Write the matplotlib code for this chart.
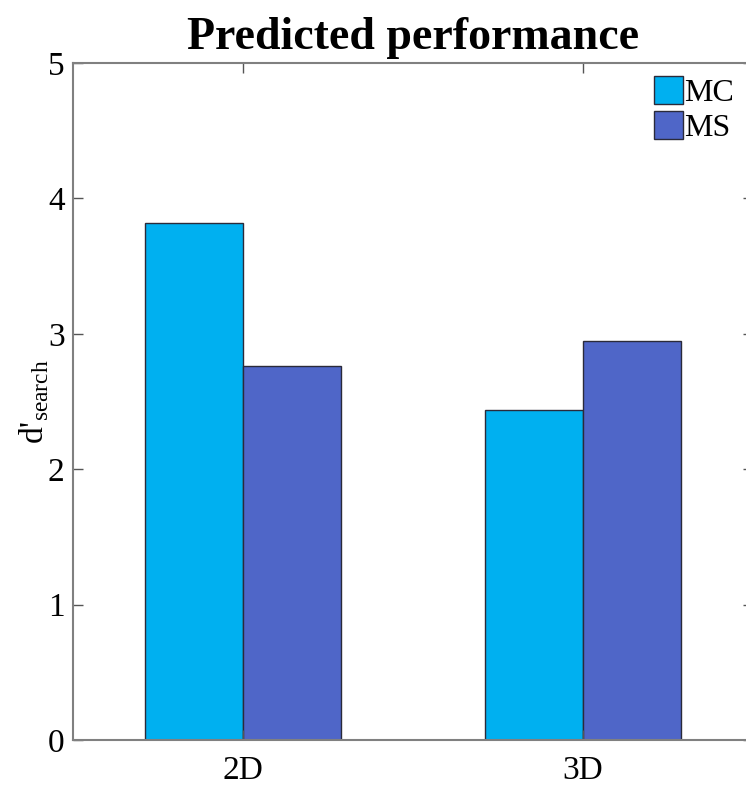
import matplotlib
matplotlib.use("Agg")
import matplotlib.pyplot as plt
import numpy as np

plt.rcParams['font.family'] = ['Liberation Serif', 'DejaVu Serif']
plt.rcParams['mathtext.fontset'] = 'custom'
plt.rcParams['mathtext.rm'] = 'Liberation Serif'

groups = ["2D", "3D"]
series = ["MC", "MS"]
mc_vals = [3.82, 2.44]
ms_vals = [2.76, 2.95]
colors = ["#00B0F0", "#4F66C8"]

fig = plt.figure(figsize=(7.46, 7.89), dpi=100)
ax = fig.add_axes([73/746, 49/789, 680/746, 677/789])

x = np.arange(1, len(groups) + 1)
w = 0.287
ax.bar(x - w/2, mc_vals, w, color=colors[0], edgecolor="#2a2a3a", linewidth=1, label=series[0])
ax.bar(x + w/2, ms_vals, w, color=colors[1], edgecolor="#2a2a3a", linewidth=1, label=series[1])

ax.set_xlim(0.5, 2.5)
ax.set_ylim(0, 5)
ax.set_xticks(x)
ax.set_xticklabels(groups)
ax.set_yticks(range(6))
ax.tick_params(direction="in", top=True, right=True, labelsize=24, length=7,
               width=1, color="#555555")
ax.tick_params(axis="y", pad=6)
ax.tick_params(axis="x", pad=11)
for s in ax.spines.values():
    s.set_color("#808080")
    s.set_linewidth(1.5)

ax.set_title("Predicted performance", fontsize=33, fontweight="bold", pad=10)
ax.set_ylabel(r"d'$_{\mathrm{search}}$", fontsize=24, labelpad=-2)

leg = ax.legend(loc="upper right", frameon=False, fontsize=23, handlelength=0.9,
                handleheight=0.95, handletextpad=0.05, labelspacing=0.1,
                borderaxespad=0, borderpad=0.1, bbox_to_anchor=(0.977, 0.985))

fig.savefig("out.png", dpi=100)
